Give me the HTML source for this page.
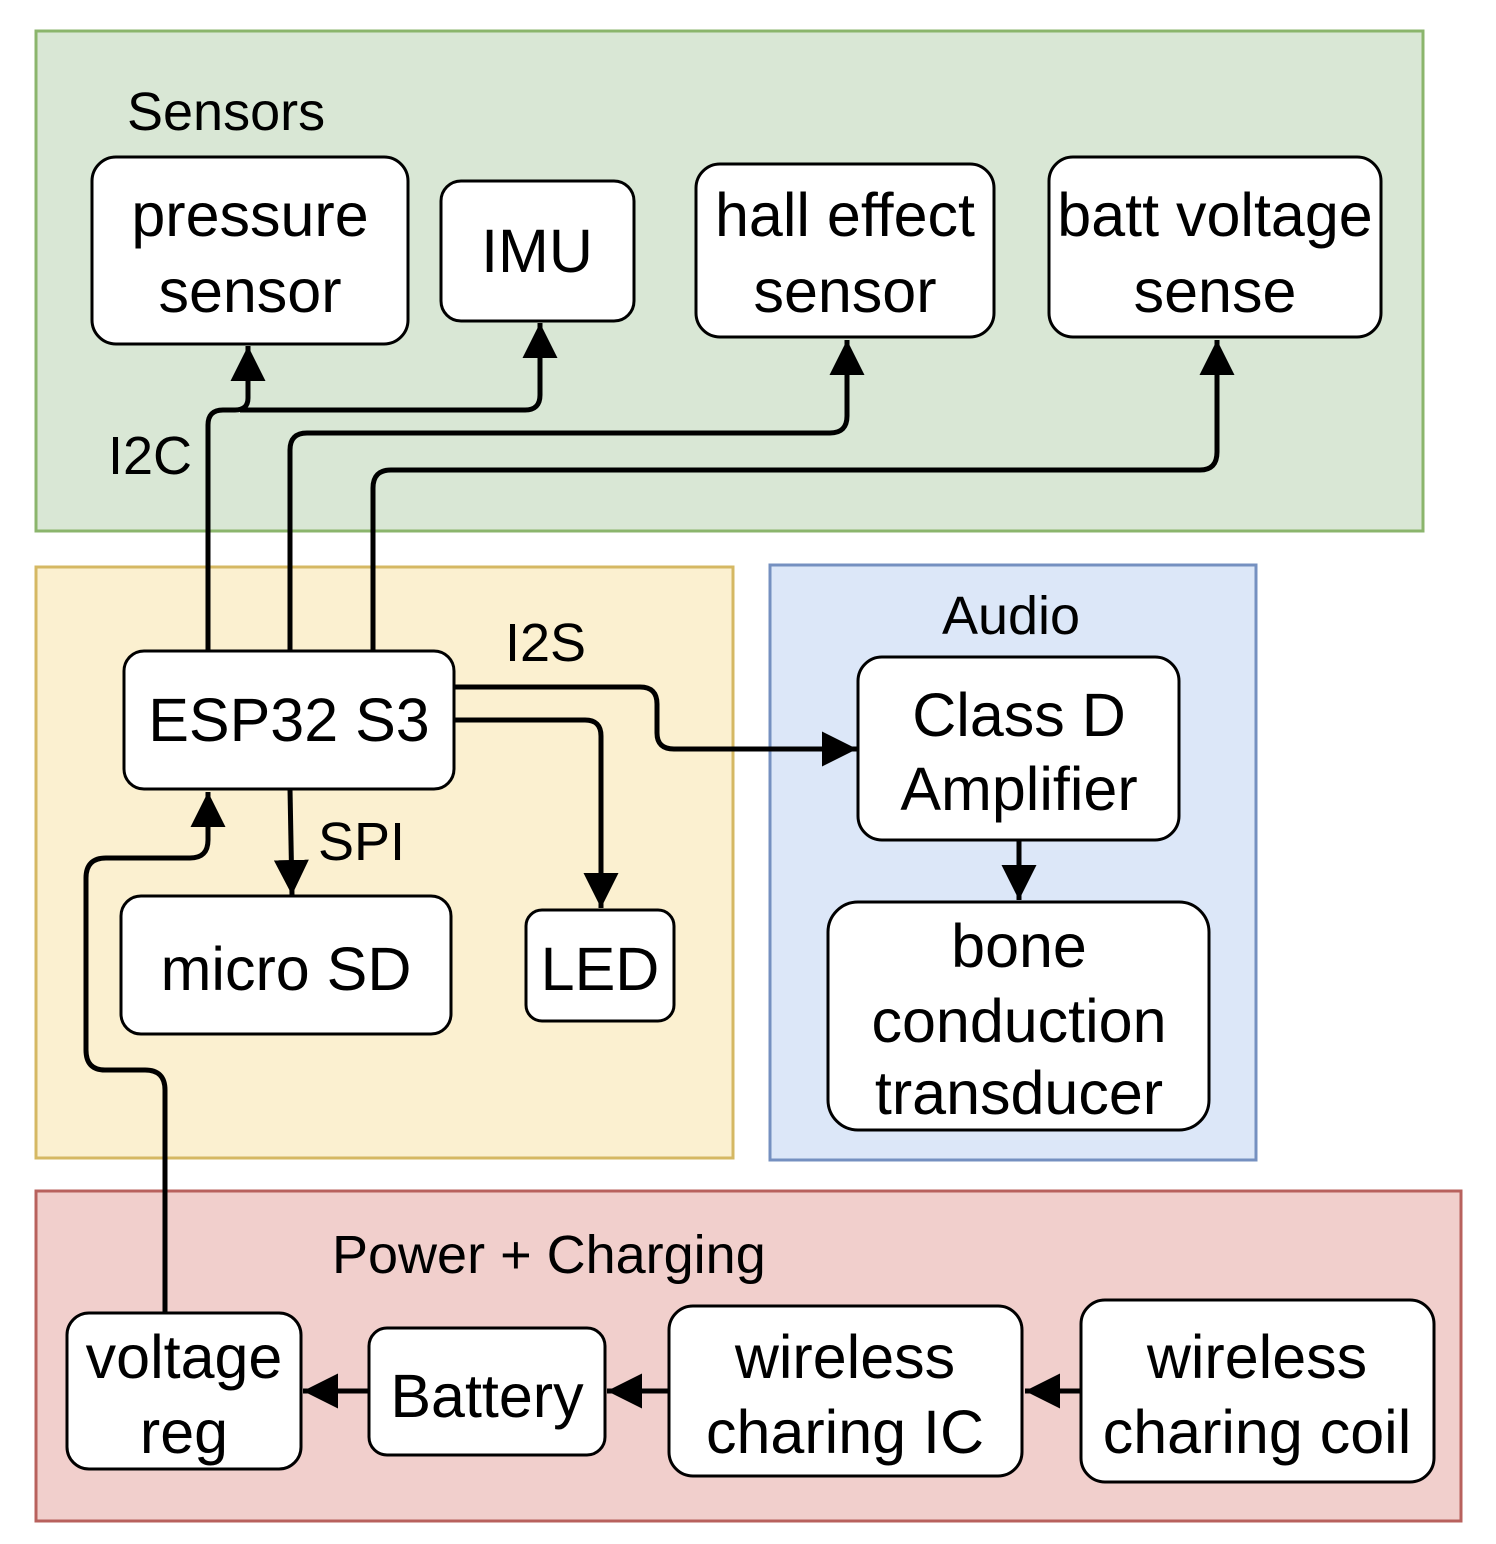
<!DOCTYPE html>
<html><head><meta charset="utf-8"><style>
html,body{margin:0;padding:0;background:#fff;}
svg{display:block;}
text{font-family:"Liberation Sans",Arial,sans-serif;fill:#000;}
</style></head><body>
<svg width="1496" height="1544" viewBox="0 0 1496 1544" xmlns="http://www.w3.org/2000/svg">
<defs>
<marker id="a" viewBox="0 0 10 10" refX="10" refY="5" markerWidth="7" markerHeight="7" markerUnits="strokeWidth" orient="auto">
<path d="M0,0 L10,5 L0,10 z" fill="#000"/></marker>
</defs>
<rect x="36" y="31" width="1387" height="500" fill="#d9e7d5" stroke="#8bb56c" stroke-width="3"/>
<rect x="36" y="567" width="697" height="591" fill="#fbf0d0" stroke="#d5b863" stroke-width="3"/>
<rect x="770" y="565" width="486" height="595" fill="#dce7f8" stroke="#7590c0" stroke-width="3"/>
<rect x="36" y="1191" width="1425" height="330" fill="#f1cfcc" stroke="#b8615d" stroke-width="3"/>
<g font-size="54">
<text x="127" y="130">Sensors</text>
<text x="108" y="474">I2C</text>
<text x="505" y="661">I2S</text>
<text x="318" y="860">SPI</text>
<text x="1011" y="634" text-anchor="middle">Audio</text>
<text x="332" y="1273">Power + Charging</text>
</g>
<g fill="none" stroke="#000" stroke-width="5" stroke-linejoin="round">
<path d="M208 651 V425 Q208 410 223 410 H235 Q248 410 248 398 V346" marker-end="url(#a)"/>
<path d="M240 410 H525 Q540 410 540 395 V323" marker-end="url(#a)"/>
<path d="M290 651 V450 Q290 433 307 433 H830 Q847 433 847 416 V340" marker-end="url(#a)"/>
<path d="M373 651 V488 Q373 470 391 470 H1200 Q1217 470 1217 452 V340" marker-end="url(#a)"/>
<path d="M454 687 H640 Q657 687 657 704 V733 Q657 749 674 749 H857" marker-end="url(#a)"/>
<path d="M454 720 H585 Q601 720 601 736 V908" marker-end="url(#a)"/>
<path d="M290 789 L292 895" marker-end="url(#a)"/>
<path d="M1019 840 V900" marker-end="url(#a)"/>
<path d="M165 1313 V1090 Q165 1070 145 1070 H105 Q86 1070 86 1050 V878 Q86 858 106 858 H190 Q208 858 208 840 V792" marker-end="url(#a)"/>
<path d="M1081 1391 H1025" marker-end="url(#a)"/>
<path d="M669 1391 H607" marker-end="url(#a)"/>
<path d="M369 1391 H303" marker-end="url(#a)"/>
</g>
<g fill="#fff" stroke="#000" stroke-width="3">
<rect x="92" y="157" width="316" height="187" rx="24"/>
<rect x="441" y="181" width="193" height="140" rx="20"/>
<rect x="696" y="164" width="298" height="173" rx="24"/>
<rect x="1049" y="157" width="332" height="180" rx="24"/>
<rect x="124" y="651" width="330" height="138" rx="20"/>
<rect x="121" y="896" width="330" height="138" rx="20"/>
<rect x="526" y="910" width="148" height="111" rx="16"/>
<rect x="858" y="657" width="321" height="183" rx="24"/>
<rect x="828" y="902" width="381" height="228" rx="30"/>
<rect x="67" y="1313" width="234" height="156" rx="22"/>
<rect x="369" y="1328" width="236" height="127" rx="18"/>
<rect x="669" y="1306" width="353" height="170" rx="24"/>
<rect x="1081" y="1300" width="353" height="182" rx="24"/>
</g>
<g font-size="61" text-anchor="middle">
<text x="250" y="236">pressure</text><text x="250" y="312">sensor</text>
<text x="537" y="272">IMU</text>
<text x="845" y="236">hall effect</text><text x="845" y="312">sensor</text>
<text x="1215" y="236">batt voltage</text><text x="1215" y="312">sense</text>
<text x="289" y="741">ESP32 S3</text>
<text x="286" y="990">micro SD</text>
<text x="600" y="990">LED</text>
<text x="1019" y="736">Class D</text><text x="1019" y="810">Amplifier</text>
<text x="1019" y="967">bone</text><text x="1019" y="1042">conduction</text><text x="1019" y="1114">transducer</text>
<text x="184" y="1378">voltage</text><text x="184" y="1453">reg</text>
<text x="487" y="1417">Battery</text>
<text x="845" y="1378">wireless</text><text x="845" y="1453">charing IC</text>
<text x="1257" y="1378">wireless</text><text x="1257" y="1453">charing coil</text>
</g>
</svg>
</body></html>
